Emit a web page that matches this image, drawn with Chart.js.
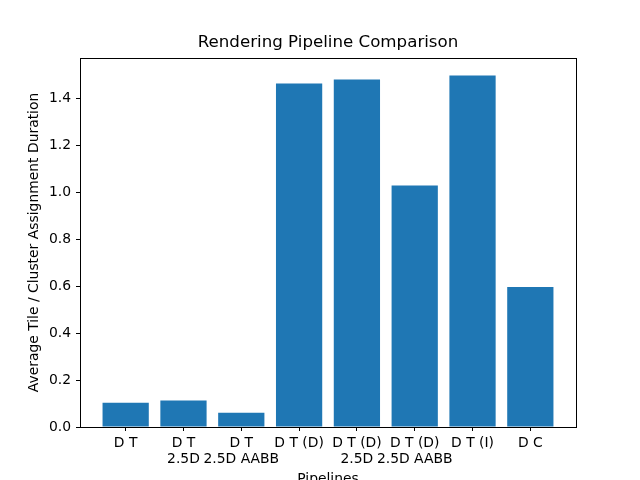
<!DOCTYPE html>
<html>
<head>
<meta charset="utf-8">
<script src="https://cdn.jsdelivr.net/npm/chart.js@4/dist/chart.umd.min.js"></script>
<style>
html,body{margin:0;padding:0;background:#fff;}
#wrap{width:640px;height:480px;}
</style>
</head>
<body>
<div id="wrap"><canvas id="c" width="640" height="480"></canvas></div>
<script>
const categories = [
  ["D T"],
  ["D T", "2.5D"],
  ["D T", "2.5D AABB"],
  ["D T (D)"],
  ["D T (D)", "2.5D"],
  ["D T (D)", "2.5D AABB"],
  ["D T (I)"],
  ["D C"]
];
const durations = [0.103, 0.113, 0.061, 1.463, 1.480, 1.029, 1.497, 0.596];
const yTicks = [0.0, 0.2, 0.4, 0.6, 0.8, 1.0, 1.2, 1.4];

const FONT = "'DejaVu Sans', sans-serif";

const framePlugin = {
  id: 'frame',
  afterDatasetsDraw(chart) {
    const {ctx, chartArea: a} = chart;
    ctx.save();
    ctx.strokeStyle = '#000';
    ctx.lineWidth = 1;
    ctx.strokeRect(Math.round(a.left) + 0.5, Math.round(a.top) + 0.5,
                   Math.round(a.right - a.left), Math.round(a.bottom - a.top));
    ctx.restore();
  }
};

new Chart(document.getElementById('c'), {
  type: 'bar',
  data: {
    datasets: [{
      data: durations.map((v, i) => ({x: i, y: v})),
      backgroundColor: '#1f77b4',
      borderColor: '#1f77b4',
      borderWidth: 0,
      inflateAmount: 0,
      barPercentage: 0.8,
      categoryPercentage: 1.0
    }]
  },
  options: {
    responsive: false,
    animation: false,
    devicePixelRatio: 1,
    layout: {padding: {left: 16, right: 0, top: 0, bottom: 0}},
    plugins: {
      legend: {display: false},
      tooltip: {enabled: false},
      title: {
        display: true,
        text: 'Rendering Pipeline Comparison',
        color: '#000',
        font: {family: FONT, size: 16.67, weight: 'normal', lineHeight: 1.2},
        padding: {top: 33, bottom: 5}
      }
    },
    scales: {
      x: {
        type: 'linear',
        min: -0.79,
        max: 7.79,
        offset: false,
        grid: {display: true, offset: false, drawOnChartArea: false, tickLength: 4, color: '#000', tickColor: '#000'},
        border: {display: true, color: '#000'},
        afterBuildTicks(scale) {
          scale.ticks = categories.map((_, i) => ({value: i}));
        },
        afterFit(scale) { scale.height = 53; },
        ticks: {
          color: '#000',
          font: {family: FONT, size: 13.9, lineHeight: 1.15},
          padding: 4,
          maxRotation: 0,
          autoSkip: false,
          callback: (v) => categories[v]
        },
        title: {
          display: true,
          text: 'Pipelines',
          color: '#000',
          font: {family: FONT, size: 13.9},
          padding: {top: 0, bottom: -8}
        }
      },
      y: {
        type: 'linear',
        min: 0,
        max: 1.572,
        grid: {display: true, drawOnChartArea: false, tickLength: 4, color: '#000', tickColor: '#000'},
        border: {display: true, color: '#000'},
        afterBuildTicks(scale) {
          scale.ticks = yTicks.map(v => ({value: v}));
        },
        afterFit(scale) { scale.width = 64; },
        ticks: {
          color: '#000',
          font: {family: FONT, size: 13.9},
          padding: 5,
          callback: (v) => Number(v).toFixed(1)
        },
        title: {
          display: true,
          text: 'Average Tile / Cluster Assignment Duration',
          color: '#000',
          font: {family: FONT, size: 13.9},
          padding: {top: 10.5, bottom: 0}
        }
      },
      yRight: {
        type: 'linear',
        position: 'right',
        display: true,
        min: 0,
        max: 1,
        grid: {display: false},
        border: {display: false},
        ticks: {display: false},
        afterFit(scale) { scale.width = 64; }
      }
    }
  },
  plugins: [framePlugin]
});
</script>
</body>
</html>
